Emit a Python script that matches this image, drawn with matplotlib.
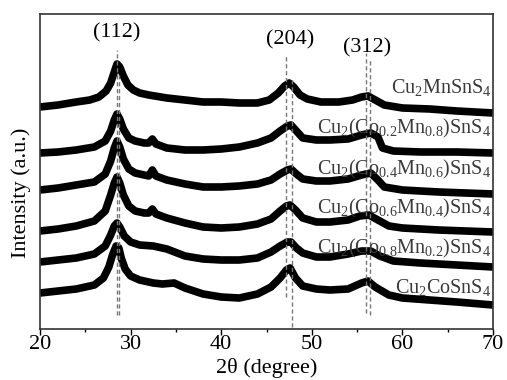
import matplotlib.pyplot as plt
from matplotlib.ticker import MultipleLocator

plt.rcParams['font.family'] = ['Liberation Serif', 'DejaVu Serif']
plt.rcParams['mathtext.fontset'] = 'custom'
plt.rcParams['mathtext.rm'] = 'Liberation Serif'
plt.rcParams['mathtext.it'] = 'Liberation Serif:italic'

# 2theta positions and stacked intensities (a.u.)
tt_mn = [20.0, 22.0, 24.0, 25.5, 26.5, 27.3, 27.8, 28.2, 28.5, 28.8, 29.2, 29.7, 30.3, 31.0,
         32.0, 34.0, 36.0, 38.0, 40.0, 42.0, 44.0, 45.3, 46.3, 47.0, 47.5, 48.0, 48.7, 49.5,
         51.0, 53.0, 54.5, 55.5, 56.2, 57.0, 58.0, 60.0, 63.0, 66.0, 70.0]
i_mn = [222, 224, 227, 229, 232, 238, 246, 257, 265, 262, 253, 244, 239, 236,
        234, 231, 229, 227, 227, 226, 226, 229, 236, 243, 246, 242, 234, 230,
        227, 227, 229, 232, 233, 229, 224, 221, 220, 218, 216]

tt_co2 = [20.0, 22.0, 24.0, 26.0, 27.2, 27.8, 28.2, 28.5, 28.8, 29.2, 29.8, 30.5, 31.5, 32.0,
          32.4, 32.8, 34.0, 36.0, 38.0, 40.0, 42.0, 44.0, 45.5, 46.5, 47.3, 47.7, 48.3, 49.0,
          50.5, 52.0, 54.0, 55.5, 56.5, 57.3, 57.8, 59.0, 62.0, 66.0, 70.0]
i_co2 = [176, 177, 179, 182, 188, 198, 209, 215, 210, 200, 191, 188, 186, 186,
         190, 185, 181, 179, 179, 180, 182, 186, 191, 198, 203, 204, 198, 191,
         189, 189, 190, 194, 196, 192, 181, 178, 177, 177, 176]

tt_co4 = [20.0, 22.0, 24.0, 26.0, 27.2, 27.8, 28.2, 28.5, 28.8, 29.2, 29.8, 30.5, 31.5, 32.0,
          32.4, 32.8, 34.0, 36.0, 38.0, 40.0, 42.0, 44.0, 45.5, 46.5, 47.3, 47.7, 48.3, 49.0,
          50.5, 52.0, 54.0, 55.5, 56.5, 57.3, 58.0, 60.0, 64.0, 70.0]
i_co4 = [139, 141, 144, 147, 155, 168, 181, 188, 182, 170, 160, 156, 154, 153,
         159, 153, 149, 145, 142, 142, 143, 145, 149, 155, 159, 160, 155, 150,
         148, 148, 150, 154, 156, 149, 142, 139, 137, 135]

tt_co6 = [20.0, 22.0, 24.0, 26.0, 27.2, 27.8, 28.2, 28.5, 28.8, 29.2, 29.8, 30.5, 31.5, 32.0,
          32.4, 32.8, 34.0, 36.0, 38.0, 40.0, 42.0, 44.0, 45.5, 46.5, 47.2, 47.6, 48.2, 49.0,
          50.5, 52.0, 54.0, 55.3, 56.3, 57.3, 58.5, 60.0, 64.0, 70.0]
i_co6 = [98, 100, 103, 108, 118, 134, 146, 152, 146, 134, 123, 118, 116, 116,
         120, 115, 111, 106, 102, 101, 102, 105, 110, 118, 123, 124, 119, 111,
         107, 107, 109, 113, 114, 109, 103, 101, 99, 97]

tt_co8 = [20.0, 22.0, 24.0, 26.0, 27.2, 27.8, 28.2, 28.5, 28.8, 29.3, 30.0, 31.0, 32.5, 34.0,
          36.0, 38.0, 40.0, 42.0, 44.0, 45.5, 46.5, 47.3, 47.7, 48.3, 49.0, 50.5, 52.0, 54.0,
          55.5, 56.5, 57.5, 59.0, 62.0, 66.0, 70.0]
i_co8 = [67, 69, 71, 75, 83, 94, 103, 106, 102, 93, 87, 84, 83, 80,
         73, 70, 69, 69, 71, 77, 83, 87, 87, 81, 76, 72, 72, 75,
         78, 78, 73, 68, 66, 64, 62]

tt_co = [20.0, 22.0, 24.0, 26.0, 27.0, 27.6, 28.0, 28.4, 28.7, 29.0, 29.4, 30.0, 31.0, 32.5,
         33.5, 34.8, 36.0, 38.0, 40.0, 42.0, 44.0, 45.5, 46.5, 47.2, 47.6, 48.2, 49.0, 50.5,
         52.0, 54.0, 55.5, 56.2, 57.0, 58.5, 60.0, 63.0, 66.0, 70.0]
i_co = [36, 38, 40, 44, 51, 62, 74, 83, 81, 70, 60, 53, 49, 46,
        45, 46, 41, 35, 32, 31, 35, 42, 51, 59, 61, 51, 43, 40,
        39, 40, 46, 48, 42, 34, 31, 29, 27, 24]

series = [(tt_mn, i_mn), (tt_co2, i_co2), (tt_co4, i_co4),
          (tt_co6, i_co6), (tt_co8, i_co8), (tt_co, i_co)]

names = [r'Cu$_2$MnSnS$_4$',
         r'Cu$_2$(Co$_{0.2}$Mn$_{0.8}$)SnS$_4$',
         r'Cu$_2$(Co$_{0.4}$Mn$_{0.6}$)SnS$_4$',
         r'Cu$_2$(Co$_{0.6}$Mn$_{0.4}$)SnS$_4$',
         r'Cu$_2$(Co$_{0.8}$Mn$_{0.2}$)SnS$_4$',
         r'Cu$_2$CoSnS$_4$']
name_y = [236, 196, 155, 116, 76, 36]

# reference lines: position, bottom, top
ref_lines = [(28.45, 14, 279), (28.7, 14, 255),
             (47.2, 32, 274), (47.85, 2, 252),
             (56.0, 16, 276), (56.4, 14, 271)]
hkl = ['(112)', '(204)', '(312)']
hkl_x = [28.5, 47.6, 56.1]
hkl_y = [296, 289, 281]

fig = plt.figure(figsize=(5.07, 3.8), dpi=100)
ax = fig.add_axes([0.0789, 0.1342, 0.8935, 0.829])

for x, y in series:
    ax.plot(x, y, color='black', lw=5.5, solid_joinstyle='round', solid_capstyle='butt')

for x, y0, y1 in ref_lines:
    ax.plot([x, x], [y0, y1], color='#777777', lw=1.0, dashes=(3, 2))

for t, x, y in zip(hkl, hkl_x, hkl_y):
    ax.text(x, y, t, ha='center', va='center', fontsize=16, color='black')

for n, y in zip(names, name_y):
    ax.text(69.8, y, n, ha='right', va='baseline', fontsize=14.5, color='#3a3a3a')

ax.set_xlim(20, 70)
ax.set_ylim(0, 315)
ax.set_yticks([])
ax.xaxis.set_major_locator(MultipleLocator(10))
ax.xaxis.set_minor_locator(MultipleLocator(5))
ax.tick_params(axis='x', which='major', direction='out', length=4, width=1, labelsize=16, pad=0)
ax.tick_params(axis='x', which='minor', direction='out', length=2.5, width=1)
for s in ax.spines.values():
    s.set_linewidth(1.2)
    s.set_color('#333333')

ax.set_xlabel('2θ (degree)', fontsize=16)
ax.xaxis.set_label_coords(0.5, -0.092)
ax.set_ylabel('Intensity (a.u.)', fontsize=16)
ax.yaxis.set_label_coords(-0.02, 0.432)

fig.savefig('out.png', dpi=100)
